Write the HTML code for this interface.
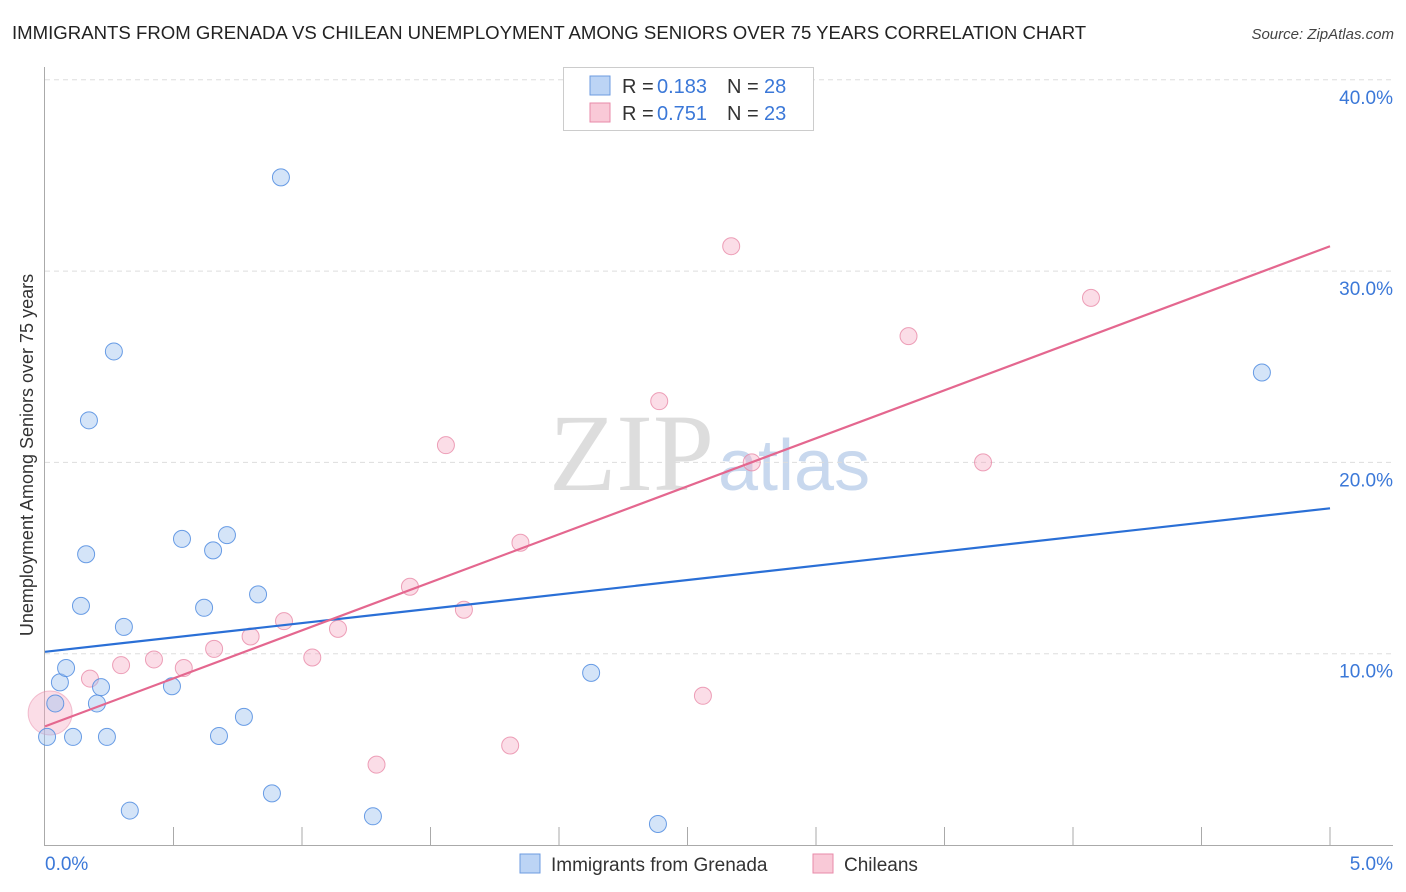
<!DOCTYPE html>
<html><head><meta charset="utf-8"><style>
body{margin:0;background:#fff;font-family:"Liberation Sans",sans-serif;}
#wrap{position:relative;width:1406px;height:892px;overflow:hidden;}
</style></head><body>
<div id="wrap">
<svg id="svg" width="1406" height="892" xmlns="http://www.w3.org/2000/svg">
<text x="12" y="39" font-size="18.6" fill="#222">IMMIGRANTS FROM GRENADA VS CHILEAN UNEMPLOYMENT AMONG SENIORS OVER 75 YEARS CORRELATION CHART</text>
<text x="1394" y="39" font-size="15" fill="#444" font-style="italic" text-anchor="end">Source: ZipAtlas.com</text>
<text x="714" y="490" font-size="110" fill="#ddd" text-anchor="end" font-family="Liberation Serif,serif">ZIP</text>
<text x="718" y="490" font-size="72" fill="#c8d8ee">atlas</text>
<text transform="translate(33,455) rotate(-90)" font-size="18" fill="#333" text-anchor="middle">Unemployment Among Seniors over 75 years</text>
<g id="grid"></g><g id="marks"></g>
<g>
<rect x="563.5" y="67.5" width="250" height="63" fill="#fff" stroke="#ccc"/>
<rect x="590" y="76" width="20" height="19" fill="#bcd4f5" stroke="#6c9be0"/>
<rect x="590" y="103" width="20" height="19" fill="#f9c9d7" stroke="#e88aa8"/>
<text x="622" y="93" font-size="20" fill="#333">R =</text>
<text x="657" y="93" font-size="20" fill="#3b78d8">0.183</text>
<text x="727" y="93" font-size="20" fill="#333">N =</text>
<text x="764" y="93" font-size="20" fill="#3b78d8">28</text>
<text x="622" y="120" font-size="20" fill="#333">R =</text>
<text x="657" y="120" font-size="20" fill="#3b78d8">0.751</text>
<text x="727" y="120" font-size="20" fill="#333">N =</text>
<text x="764" y="120" font-size="20" fill="#3b78d8">23</text>
</g>
<rect x="520" y="854" width="20" height="19" fill="#bcd4f5" stroke="#6c9be0"/>
<text x="551" y="871" font-size="19" fill="#333">Immigrants from Grenada</text>
<rect x="813" y="854" width="20" height="19" fill="#f9c9d7" stroke="#e88aa8"/>
<text x="844" y="871" font-size="19" fill="#333">Chileans</text>
</svg></div>
<script>
const yTicks=[10,20,30,40];
const yTickLabels=["10.0%","20.0%","30.0%","40.0%"];
const xTicks=[0,0.5,1,1.5,2,2.5,3,3.5,4,4.5,5];
const blueX=[0.008,0.04,0.058,0.082,0.109,0.16,0.14,0.171,0.202,0.218,0.241,0.268,0.307,0.33,0.494,0.533,0.619,0.654,0.677,0.708,0.774,0.829,0.883,0.918,1.276,2.125,2.385,4.735];
const blueY=[5.65,7.4,8.5,9.25,5.65,15.2,12.5,22.2,7.4,8.25,5.65,25.8,11.4,1.8,8.3,16.0,12.4,15.4,5.7,16.2,6.7,13.1,2.7,34.9,1.5,9.0,1.1,24.7];
const pinkX=[0.175,0.296,0.424,0.54,0.658,0.8,0.93,1.04,1.14,1.29,1.42,1.56,1.63,1.81,1.85,2.39,2.56,2.67,2.75,3.36,3.65,4.07];
const pinkY=[8.7,9.4,9.7,9.25,10.25,10.9,11.7,9.8,11.3,4.2,13.5,20.9,12.3,5.2,15.8,23.2,7.8,31.3,20.0,26.6,20.0,28.6];
const blueTrend=[10.1,17.6];
const pinkTrend=[6.2,31.3];
const NS="http://www.w3.org/2000/svg";
const X=v=>45+v*257;
const Y=v=>845-v*19.13;
const grid=document.getElementById('grid'),marks=document.getElementById('marks');
function mk(tag,at,parent){const e=document.createElementNS(NS,tag);for(const k in at)e.setAttribute(k,at[k]);parent.appendChild(e);return e;}
let e;
yTicks.forEach((t,i)=>{
 e=mk('line',{x1:45,x2:1393,y1:Y(t),y2:Y(t),stroke:'#ddd','stroke-dasharray':'5,4'},grid);
 
 
 e=mk('text',{x:1393,y:Y(t)+24,'text-anchor':'end','font-size':19,fill:'#3b78d8'},grid);e.textContent=yTickLabels[i];
 
 
});
e=mk('line',{x1:44.5,x2:44.5,y1:67,y2:845,stroke:'#aaa'},grid);


e=mk('line',{x1:44,x2:1393,y1:845.5,y2:845.5,stroke:'#aaa'},grid);


xTicks.forEach(t=>{if(t===0)return;
 e=mk('line',{x1:X(t),x2:X(t),y1:827,y2:845,stroke:'#aaa'},grid);
 
 
});
e=mk('text',{x:45,y:870,'font-size':19,fill:'#3b78d8'},grid);e.textContent='0.0%';


e=mk('text',{x:1393,y:870,'font-size':19,fill:'#3b78d8','text-anchor':'end'},grid);e.textContent='5.0%';


e=mk('circle',{cx:X(0.02),cy:Y(6.9),r:22,fill:'rgba(244,170,195,0.4)',stroke:'rgba(232,138,168,0.5)'},marks);


pinkX.forEach((v,i)=>{e=mk('circle',{cx:X(v),cy:Y(pinkY[i]),r:8.5,fill:'rgba(244,170,195,0.4)',stroke:'rgba(232,138,168,0.8)'},marks);
 
 });
blueX.forEach((v,i)=>{e=mk('circle',{cx:X(v),cy:Y(blueY[i]),r:8.5,fill:'rgba(160,195,240,0.45)',stroke:'rgba(80,140,225,0.85)'},marks);
 
 });
e=mk('line',{x1:X(0),x2:X(5),y1:Y(blueTrend[0]),y2:Y(blueTrend[1]),stroke:'#2a6fd6','stroke-width':2.2},marks);


e=mk('line',{x1:X(0),x2:X(5),y1:Y(pinkTrend[0]),y2:Y(pinkTrend[1]),stroke:'#e4678f','stroke-width':2.2},marks);


</script>
</body></html>
